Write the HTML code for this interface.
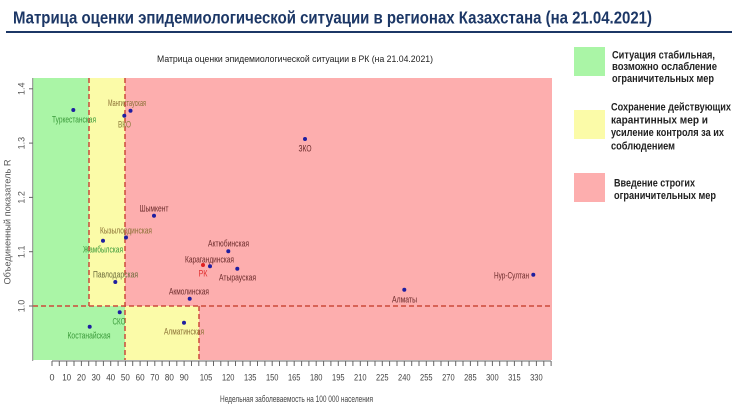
<!DOCTYPE html>
<html><head><meta charset="utf-8"><style>
html,body{margin:0;padding:0;background:#fff;}
svg{display:block;}
text{font-family:"Liberation Sans","Noto Sans CJK SC",sans-serif;}
</style></head><body>
<svg width="740" height="413" viewBox="0 0 740 413" xmlns="http://www.w3.org/2000/svg">
<rect width="740" height="413" fill="#fff"/>
<!-- main title -->
<text x="13" y="23.5" font-size="17.5" font-weight="bold" fill="#1c3766" textLength="639" lengthAdjust="spacingAndGlyphs">Матрица оценки эпидемиологической ситуации в регионах Казахстана (на 21.04.2021)</text>
<rect x="6" y="31" width="726" height="2" fill="#1c3766"/>
<!-- chart title -->
<text x="157" y="62" font-size="9.5" fill="#222" textLength="276" lengthAdjust="spacingAndGlyphs">Матрица оценки эпидемиологической ситуации в РК (на 21.04.2021)</text>

<!-- zones -->
<rect x="33" y="78" width="56" height="228" fill="#aaf5a6"/>
<rect x="33" y="306" width="92" height="54" fill="#aaf5a6"/>
<rect x="89" y="78" width="36" height="228" fill="#fbfba8"/>
<rect x="125" y="306" width="74" height="54" fill="#fbfba8"/>
<rect x="125" y="78" width="427" height="228" fill="#fdaeae"/>
<rect x="199" y="306" width="353" height="54" fill="#fdaeae"/>

<!-- dashed lines -->
<g stroke="#cc4a3a" stroke-width="1.5" stroke-dasharray="5,3" fill="none">
<line x1="89" y1="78" x2="89" y2="306"/>
<line x1="125" y1="78" x2="125" y2="360"/>
<line x1="199" y1="306" x2="199" y2="360"/>
<line x1="33" y1="306" x2="552" y2="306"/>
</g>

<!-- y axis -->
<line x1="32.7" y1="78" x2="32.7" y2="361" stroke="#888" stroke-width="1"/>
<g stroke="#666" stroke-width="1">
<line x1="29" y1="306" x2="33" y2="306"/>
<line x1="29" y1="251.7" x2="33" y2="251.7"/>
<line x1="29" y1="197.4" x2="33" y2="197.4"/>
<line x1="29" y1="143.1" x2="33" y2="143.1"/>
<line x1="29" y1="88.8" x2="33" y2="88.8"/>
</g>
<g font-size="9" fill="#555" text-anchor="middle">
<text transform="translate(24.5,306) rotate(-90)">1.0</text>
<text transform="translate(24.5,251.7) rotate(-90)">1.1</text>
<text transform="translate(24.5,197.4) rotate(-90)">1.2</text>
<text transform="translate(24.5,143.1) rotate(-90)">1.3</text>
<text transform="translate(24.5,88.8) rotate(-90)">1.4</text>
<text transform="translate(10.5,222) rotate(-90)" textLength="125" lengthAdjust="spacingAndGlyphs">Объединенный показатель R</text>
</g>

<!-- x axis -->
<g stroke="#666" stroke-width="1" fill="none">
<line x1="52" y1="361" x2="551" y2="361"/>
<path d="M52 361v5M59.3 361v5M66.7 361v5M74 361v5M81.4 361v5M88.7 361v5M96 361v5M103.4 361v5M110.7 361v5M118.1 361v5M125.4 361v5M132.7 361v5M140.1 361v5M147.4 361v5M154.8 361v5M162.1 361v5M169.4 361v5M176.8 361v5M184.1 361v5M191.5 361v5M198.8 361v5M206.1 361v5M213.5 361v5M220.8 361v5M228.2 361v5M235.5 361v5M242.8 361v5M250.2 361v5M257.5 361v5M264.9 361v5M272.2 361v5M279.5 361v5M286.9 361v5M294.2 361v5M301.6 361v5M308.9 361v5M316.2 361v5M323.6 361v5M330.9 361v5M338.3 361v5M345.6 361v5M352.9 361v5M360.3 361v5M367.6 361v5M375 361v5M382.3 361v5M389.6 361v5M397 361v5M404.3 361v5M411.7 361v5M419 361v5M426.3 361v5M433.7 361v5M441 361v5M448.4 361v5M455.7 361v5M463 361v5M470.4 361v5M477.7 361v5M485.1 361v5M492.4 361v5M499.7 361v5M507.1 361v5M514.4 361v5M521.8 361v5M529.1 361v5M536.4 361v5M543.8 361v5M551.1 361v5"/>
</g>
<g font-size="9" fill="#444" text-anchor="middle">
<text x="52" y="380.5">0</text>
<text x="66.7" y="380.5" textLength="9" lengthAdjust="spacingAndGlyphs">10</text>
<text x="81.4" y="380.5" textLength="9" lengthAdjust="spacingAndGlyphs">20</text>
<text x="96" y="380.5" textLength="9" lengthAdjust="spacingAndGlyphs">30</text>
<text x="110.7" y="380.5" textLength="9" lengthAdjust="spacingAndGlyphs">40</text>
<text x="125.4" y="380.5" textLength="9" lengthAdjust="spacingAndGlyphs">50</text>
<text x="140.1" y="380.5" textLength="9" lengthAdjust="spacingAndGlyphs">60</text>
<text x="154.8" y="380.5" textLength="9" lengthAdjust="spacingAndGlyphs">70</text>
<text x="169.4" y="380.5" textLength="9" lengthAdjust="spacingAndGlyphs">80</text>
<text x="184.1" y="380.5" textLength="9" lengthAdjust="spacingAndGlyphs">90</text>
<text x="206.1" y="380.5" textLength="12.5" lengthAdjust="spacingAndGlyphs">105</text>
<text x="228.2" y="380.5" textLength="12.5" lengthAdjust="spacingAndGlyphs">120</text>
<text x="250.2" y="380.5" textLength="12.5" lengthAdjust="spacingAndGlyphs">135</text>
<text x="272.2" y="380.5" textLength="12.5" lengthAdjust="spacingAndGlyphs">150</text>
<text x="294.2" y="380.5" textLength="12.5" lengthAdjust="spacingAndGlyphs">165</text>
<text x="316.2" y="380.5" textLength="12.5" lengthAdjust="spacingAndGlyphs">180</text>
<text x="338.3" y="380.5" textLength="12.5" lengthAdjust="spacingAndGlyphs">195</text>
<text x="360.3" y="380.5" textLength="12.5" lengthAdjust="spacingAndGlyphs">210</text>
<text x="382.3" y="380.5" textLength="12.5" lengthAdjust="spacingAndGlyphs">225</text>
<text x="404.3" y="380.5" textLength="12.5" lengthAdjust="spacingAndGlyphs">240</text>
<text x="426.3" y="380.5" textLength="12.5" lengthAdjust="spacingAndGlyphs">255</text>
<text x="448.4" y="380.5" textLength="12.5" lengthAdjust="spacingAndGlyphs">270</text>
<text x="470.4" y="380.5" textLength="12.5" lengthAdjust="spacingAndGlyphs">285</text>
<text x="492.4" y="380.5" textLength="12.5" lengthAdjust="spacingAndGlyphs">300</text>
<text x="514.4" y="380.5" textLength="12.5" lengthAdjust="spacingAndGlyphs">315</text>
<text x="536.4" y="380.5" textLength="12.5" lengthAdjust="spacingAndGlyphs">330</text>
<text x="296.5" y="402" textLength="153" lengthAdjust="spacingAndGlyphs">Недельная заболеваемость на 100 000 населения</text>
</g>

<!-- points -->
<g fill="#1e1ea0">
<circle cx="73.3" cy="110" r="2"/>
<circle cx="130.5" cy="110.7" r="2"/>
<circle cx="124.3" cy="115.7" r="2"/>
<circle cx="305" cy="139" r="2"/>
<circle cx="154" cy="215.7" r="2"/>
<circle cx="126" cy="237.5" r="2"/>
<circle cx="103" cy="240.7" r="2"/>
<circle cx="115.3" cy="282" r="2"/>
<circle cx="228.3" cy="251.3" r="2"/>
<circle cx="210" cy="266.3" r="2"/>
<circle cx="237.3" cy="268.7" r="2"/>
<circle cx="189.7" cy="298.7" r="2"/>
<circle cx="184" cy="322.7" r="2"/>
<circle cx="404.3" cy="289.7" r="2"/>
<circle cx="533.3" cy="274.7" r="2"/>
<circle cx="119.7" cy="312.3" r="2"/>
<circle cx="89.7" cy="326.7" r="2"/>
</g>
<circle cx="203" cy="265" r="2" fill="#e02020"/>

<!-- point labels -->
<g font-size="9" text-anchor="middle">
<text x="74" y="122.5" fill="#3a9a3a" textLength="44" lengthAdjust="spacingAndGlyphs">Туркестанская</text>
<text x="127" y="106" fill="#8a7035" textLength="38" lengthAdjust="spacingAndGlyphs">Мангистауская</text>
<text x="124.5" y="127.5" fill="#8a7a3a" textLength="13" lengthAdjust="spacingAndGlyphs">ВКО</text>
<text x="305" y="151.5" fill="#6a2a2a" textLength="13" lengthAdjust="spacingAndGlyphs">ЗКО</text>
<text x="154" y="211.5" fill="#6a2a2a" textLength="29" lengthAdjust="spacingAndGlyphs">Шымкент</text>
<text x="126" y="233.5" fill="#8a7035" textLength="52" lengthAdjust="spacingAndGlyphs">Кызылординская</text>
<text x="103" y="252.5" fill="#3a9a3a" textLength="40" lengthAdjust="spacingAndGlyphs">Жамбылская</text>
<text x="115.5" y="277.5" fill="#6a6a3a" textLength="45" lengthAdjust="spacingAndGlyphs">Павлодарская</text>
<text x="228.5" y="246.5" fill="#6a2a2a" textLength="41" lengthAdjust="spacingAndGlyphs">Актюбинская</text>
<text x="209.5" y="262.5" fill="#6a2a2a" textLength="49" lengthAdjust="spacingAndGlyphs">Карагандинская</text>
<text x="203" y="276.5" fill="#e03030" textLength="9" lengthAdjust="spacingAndGlyphs">РК</text>
<text x="237.5" y="280.5" fill="#6a2a2a" textLength="37" lengthAdjust="spacingAndGlyphs">Атырауская</text>
<text x="189" y="294.5" fill="#6a2a2a" textLength="40" lengthAdjust="spacingAndGlyphs">Акмолинская</text>
<text x="184" y="334.5" fill="#8a7035" textLength="40" lengthAdjust="spacingAndGlyphs">Алматинская</text>
<text x="404.5" y="302.5" fill="#6a2a2a" textLength="25" lengthAdjust="spacingAndGlyphs">Алматы</text>
<text x="511.5" y="278.5" fill="#6a2a2a" textLength="35" lengthAdjust="spacingAndGlyphs">Нур-Султан</text>
<text x="119" y="324.5" fill="#3a9a3a" textLength="13" lengthAdjust="spacingAndGlyphs">СКО</text>
<text x="89" y="338.5" fill="#3a9a3a" textLength="43" lengthAdjust="spacingAndGlyphs">Костанайская</text>
</g>

<!-- legend -->
<rect x="574" y="47" width="31" height="29" fill="#aaf5a6"/>
<rect x="574" y="110" width="31" height="29" fill="#fbfba8"/>
<rect x="574" y="173" width="31" height="29" fill="#fdaeae"/>
<g font-size="11" font-weight="bold" fill="#222">
<text x="612" y="58.5" textLength="103" lengthAdjust="spacingAndGlyphs">Ситуация стабильная,</text>
<text x="612" y="70" textLength="105" lengthAdjust="spacingAndGlyphs">возможно ослабление</text>
<text x="612" y="82" textLength="102" lengthAdjust="spacingAndGlyphs">ограничительных мер</text>
<text x="611" y="110.5" textLength="120" lengthAdjust="spacingAndGlyphs">Сохранение действующих</text>
<text x="611" y="123.5" textLength="97" lengthAdjust="spacingAndGlyphs">карантинных мер и</text>
<text x="611" y="136" textLength="113" lengthAdjust="spacingAndGlyphs">усиление контроля за их</text>
<text x="611" y="149.5" textLength="64" lengthAdjust="spacingAndGlyphs">соблюдением</text>
<text x="614" y="186.5" textLength="81" lengthAdjust="spacingAndGlyphs">Введение строгих</text>
<text x="614" y="199" textLength="102" lengthAdjust="spacingAndGlyphs">ограничительных мер</text>
</g>
</svg>
</body></html>
